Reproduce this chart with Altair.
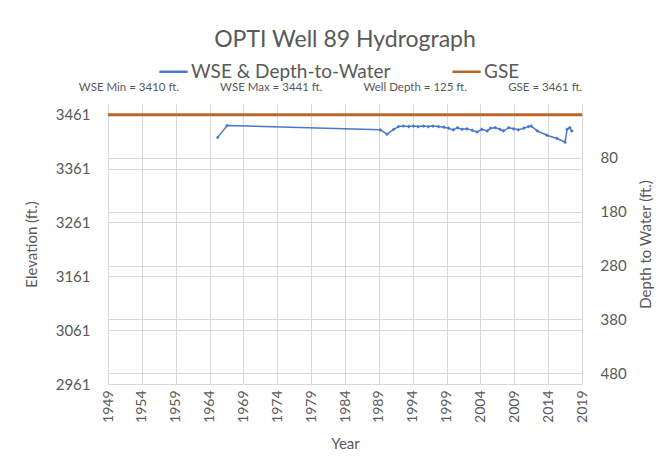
import altair as alt
import pandas as pd

# ---- data ----
wse_year = [1965.2, 1966.6, 1989.2, 1990.2, 1991.2, 1991.9, 1992.6, 1993.4, 1994.1, 1994.8,
            1995.6, 1996.3, 1997.0, 1997.8, 1998.6, 1999.3, 2000.0, 2000.6, 2001.3, 2002.0,
            2002.8, 2003.5, 2004.2, 2005.0, 2005.5, 2006.2, 2006.9, 2007.4, 2008.2, 2008.9,
            2009.6, 2010.4, 2011.1, 2011.5, 2012.4, 2013.8, 2015.3, 2016.5, 2016.8, 2017.2,
            2017.5]
wse_elev = [3419, 3441, 3433, 3425, 3434, 3439, 3440, 3439, 3440, 3439,
            3440, 3439, 3440, 3439, 3438, 3436, 3433, 3437, 3434, 3435,
            3432, 3429, 3434, 3431, 3436, 3437, 3434, 3431, 3437, 3435,
            3433, 3436, 3439, 3440, 3431, 3423, 3417, 3410, 3434, 3437,
            3431]
gse_value = [3461]
year_ticks = list(range(1949, 2020, 5))
elev_ticks = [2961, 3061, 3161, 3261, 3361, 3461]
depth_ticks = [80, 180, 280, 380, 480]
series_names = ["WSE & Depth-to-Water", "GSE"]
series_colors = ["#4A78CC", "#B5682A"]

title_text = "OPTI Well 89 Hydrograph"
GAP = "\u00a0" * 14
stats_text = ("WSE Min = 3410 ft." + GAP + "WSE Max = 3441 ft." + GAP +
              "Well Depth = 125 ft." + GAP + "GSE =  3461 ft.")

GSE = gse_value[0]
wse_df = pd.DataFrame({"year": wse_year, "elev": wse_elev, "series": series_names[0]})
wse_df["depth"] = GSE - wse_df["elev"]
gse_df = pd.DataFrame({"elev": gse_value, "series": series_names[1]})

TXT = "#595959"
GRID = "#d9d9d9"
FONT = "Lato"

color = alt.Color("series:N",
                  scale=alt.Scale(domain=series_names, range=series_colors),
                  legend=alt.Legend(title=None, orient="none", direction="horizontal",
                                    legendX=50, legendY=-48, symbolType="stroke",
                                    symbolSize=800, symbolStrokeWidth=2.5,
                                    labelFontSize=19, labelFont=FONT, labelColor=TXT,
                                    labelLimit=0, columnPadding=56, labelOffset=2))

year_scale = alt.Scale(domain=[1949, 2019], nice=False, zero=False)

x_enc = alt.X("year:Q", scale=year_scale,
              axis=alt.Axis(values=year_ticks, format="d", labelAngle=270, labelFontSize=14,
                            labelColor=TXT, labelFont=FONT, labelOverlap=False,
                            title="Year", titleFontSize=15,
                            titleFont=FONT, titleColor=TXT, titleFontWeight="normal",
                            ticks=False, domain=False, grid=True, gridColor=GRID,
                            labelPadding=6, titlePadding=14))

elev_scale = alt.Scale(domain=[2961, 3481], nice=False, zero=False)

gse_rule = alt.Chart(gse_df).mark_rule(strokeWidth=3).encode(
    y=alt.Y("elev:Q", scale=elev_scale,
            axis=alt.Axis(values=elev_ticks, format="d", labelFontSize=15, labelColor=TXT,
                          labelFont=FONT, title="Elevation (ft.)", titleFontSize=15,
                          titleFont=FONT, titleColor=TXT, titleFontWeight="normal",
                          ticks=False, domain=False, grid=True, gridColor=GRID,
                          labelPadding=18, titlePadding=16)),
    color=color,
)

wse_line = alt.Chart(wse_df).mark_line(
    strokeWidth=1.5,
    point=alt.OverlayMarkDef(shape="diamond", size=14, filled=True, color="#2E4C9C"),
).encode(
    x=x_enc,
    y=alt.Y("elev:Q", scale=elev_scale),
    color=color,
)

left = alt.layer(gse_rule, wse_line)

depth_layer = alt.Chart(wse_df).mark_point(opacity=0).encode(
    x=alt.X("year:Q", scale=year_scale,
            axis=alt.Axis(orient="top", labels=False, ticks=False, domain=False, grid=False,
                          title=stats_text, titleFont=FONT, titleFontSize=11.5,
                          titleColor=TXT, titleFontWeight="normal", titlePadding=12,
                          titleX=222, titleAlign="center")),
    y=alt.Y("depth:Q", scale=alt.Scale(domain=[-20, 500], reverse=True, nice=False, zero=False),
            axis=alt.Axis(orient="right", values=depth_ticks, labelFontSize=15, labelColor=TXT,
                          labelFont=FONT, title="Depth to Water (ft.)", titleFontSize=15,
                          titleFont=FONT, titleColor=TXT, titleFontWeight="normal",
                          titleAngle=270, titleBaseline="top", ticks=False, domain=False,
                          grid=True, gridColor=GRID, labelPadding=18, titlePadding=12)),
)

chart = alt.layer(left, depth_layer).resolve_scale(y="independent", x="independent").properties(
    width=474,
    height=280,
    autosize=alt.AutoSizeParams(type="none"),
    padding={"left": 100, "top": 96, "right": 78, "bottom": 70},
    background="white",
    title=alt.TitleParams(text=title_text, anchor="middle",
                          font=FONT, fontSize=23, fontWeight="normal", color=TXT,
                          offset=4),
).configure_view(stroke=None)

chart.save("out.html", embed_options={"renderer": "svg", "actions": False})
